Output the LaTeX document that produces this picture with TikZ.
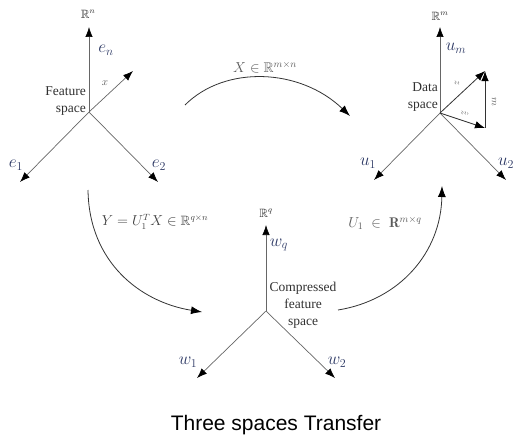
\documentclass[tikz,border=0pt]{standalone}
\usepackage{amsmath,amssymb}
\usepackage{fontspec}
\newfontfamily\titlefont{Liberation Sans}
\newfontfamily\serifb{Liberation Serif}
\usetikzlibrary{arrows.meta}
\definecolor{axisgray}{HTML}{666666}
\definecolor{labnavy}{HTML}{2B3763}
\definecolor{curvegray}{HTML}{333333}
\definecolor{txtgray}{HTML}{303030}
\definecolor{mathgray}{HTML}{5A5A5A}
\begin{document}
\begin{tikzpicture}[x=1pt,y=-1pt,
  axis/.style={draw=axisgray,line width=0.7pt,-{Latex[length=10pt,width=7.5pt,color=black]}},
  conn/.style={draw=curvegray,line width=0.8pt,-{Latex[length=11pt,width=8pt,color=black]}},
  vecz/.style={draw=black!80,line width=0.8pt,-{Latex[length=10pt,width=7.5pt,color=black]}},
  axlab/.style={text=labnavy,inner sep=0pt,font=\fontsize{17}{20}\selectfont},
  splab/.style={text=black!85,inner sep=0pt,font=\fontsize{12}{14}\selectfont},
  spacetxt/.style={text=txtgray,inner sep=0pt,font=\serifb\fontsize{13.5}{17}\selectfont},
  smalllab/.style={text=mathgray,inner sep=0pt,font=\fontsize{11}{13}\selectfont},
  zlab/.style={text=mathgray,inner sep=0pt,rotate=-90,font=\fontsize{10}{12}\selectfont},
  curvelab/.style={text=mathgray,inner sep=0pt,font=\fontsize{14}{16}\selectfont},
  titlelab/.style={text=black,inner sep=0pt,font=\titlefont\fontsize{21}{24}\selectfont}]
\useasboundingbox (0,0) rectangle (518,436);

% ---- Feature space ----
\coordinate (fo) at (89,112);
\coordinate (fn) at (89,27);
\coordinate (fx) at (133,71);
\coordinate (f1) at (20,182);
\coordinate (f2) at (158,182);
\draw[axis] (fo) -- (fn);
\draw[axis] (fo) -- (fx);
\draw[axis] (fo) -- (f1);
\draw[axis] (fo) -- (f2);
\node[splab] (Rn) at (88,14) {$\mathbb{R}^n$};
\node[axlab] (en) at (106,50) {$e_n$};
\node[smalllab] (xl) at (105,83) {$x$};
\node[spacetxt,anchor=east,align=right] (fs) at (86,101) {Feature\\space};
\node[axlab] (e1) at (16,165) {$e_1$};
\node[axlab] (e2) at (159,165) {$e_2$};

% ---- Data space ----
\coordinate (do) at (440,113);
\coordinate (dm) at (440,27);
\coordinate (d1) at (374,180);
\coordinate (d2) at (506,180);
\coordinate (dz) at (485,71);
\coordinate (dh) at (485,128);
\draw[axis] (do) -- (dm);
\draw[axis] (do) -- (d1);
\draw[axis] (do) -- (d2);
\draw[vecz] (do) -- (dz);
\draw[vecz] (do) -- (dh);
\draw[vecz] (dh) -- (dz);
\node[splab] (Rm) at (440,16) {$\mathbb{R}^m$};
\node[axlab] (um) at (456,48) {$u_m$};
\node[spacetxt,anchor=east,align=right] (ds) at (438,97) {Data\\space};
\node[axlab] (u1) at (368,163) {$u_1$};
\node[axlab] (u2) at (506,163) {$u_2$};
\node[zlab] (zl) at (457,83) {$z$};
\node[zlab] (zh) at (465,113) {$\hat{z}$};
\node[zlab] (ml) at (494,102) {$m$};

% ---- Compressed feature space ----
\coordinate (co) at (266,311);
\coordinate (cq) at (266,225);
\coordinate (c1) at (197,378);
\coordinate (c2) at (335,378);
\draw[axis] (co) -- (cq);
\draw[axis] (co) -- (c1);
\draw[axis] (co) -- (c2);
\node[splab] (Rq) at (266,213) {$\mathbb{R}^q$};
\node[axlab] (wq) at (279,245) {$w_q$};
\node[spacetxt,align=center] (cs) at (303,305) {Compressed\\feature\\space};
\node[axlab] (w1) at (188,362) {$w_1$};
\node[axlab] (w2) at (337,362) {$w_2$};

% ---- connectors ----
\coordinate (xs) at (185,105);
\coordinate (xe) at (350,116);
\coordinate (ys) at (88,190);
\coordinate (ye) at (202,312);
\coordinate (us) at (338,310);
\coordinate (ue) at (442,186);
\draw[conn] (xs) .. controls (225,65) and (300,68) .. (xe);
\draw[conn] (ys) .. controls (89,262) and (140,302) .. (ye);
\draw[conn] (us) .. controls (400,300) and (441,252) .. (ue);
\node[curvelab] (xlab) at (265,67) {$X\in\mathbb{R}^{m\times n}$};
\node[curvelab,text=black!75,font=\fontsize{13.5}{16}\selectfont] (ylab) at (155,222) {$Y=U_1^TX\in\mathbb{R}^{q\times n}$};
\node[curvelab] (ulab) at (385,223) {$U_1\;\in\;\mathbf{R}^{m\times q}$};

% ---- title ----
\node[titlelab,anchor=base] (title) at (276,430) {Three spaces Transfer};
\end{tikzpicture}
\end{document}
